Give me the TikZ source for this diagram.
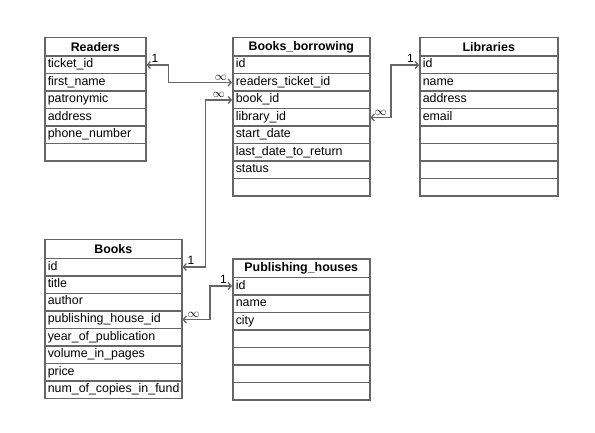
\documentclass[tikz,border=0pt]{standalone}
\usepackage{fontspec}
\setmainfont{Liberation Sans}
\usepackage{tikz}
\usetikzlibrary{arrows.meta, positioning}

\begin{document}
\begin{tikzpicture}[x=1pt, y=-1pt,
    line/.style={draw=black!60, line width=1.5pt},
    head/.style={line, anchor=north west, minimum width=#1, minimum height=18.5pt, inner sep=0pt, font=\fontsize{12.4}{14}\selectfont\bfseries},
    cell/.style={line, anchor=north west, text width=#1, minimum height=17.5pt, inner xsep=3pt, inner ysep=0pt, align=left, text height=9pt, text depth=3pt, font=\fontsize{12.4}{14}\selectfont},
    link/.style={line, line width=1.3pt, {Straight Barb[length=3pt,width=7pt]}-{Straight Barb[length=3pt,width=7pt]}},
    card/.style={inner sep=1.5pt, font=\fontsize{12}{14}\selectfont}]
    \useasboundingbox (0,0) rectangle (595,433);

    \node[head=101pt] (rd) at (44,37) {Readers};
    \foreach \i/\t in {1/ticket\_id, 2/first\_name, 3/patronymic, 4/address, 5/phone\_number, 6/} {
      \node[cell=95pt] (rd\i) at (44,{55.5+17.5*(\i-1)}) {\t};
    }

    \node[head=137pt] (bb) at (232,37) {Books\_borrowing};
    \foreach \i/\t in {1/id, 2/readers\_ticket\_id, 3/book\_id, 4/library\_id, 5/start\_date, 6/last\_date\_to\_return, 7/status, 8/} {
      \node[cell=131pt] (bb\i) at (232,{55.5+17.5*(\i-1)}) {\t};
    }

    \node[head=138pt] (lb) at (419,37) {Libraries};
    \foreach \i/\t in {1/id, 2/name, 3/address, 4/email, 5/, 6/, 7/, 8/} {
      \node[cell=132pt] (lb\i) at (419,{55.5+17.5*(\i-1)}) {\t};
    }

    \node[head=137pt] (bk) at (44,239) {Books};
    \foreach \i/\t in {1/id, 2/title, 3/author, 4/publishing\_house\_id, 5/year\_of\_publication, 6/volume\_in\_pages, 7/price, 8/num\_of\_copies\_in\_fund} {
      \node[cell=131pt] (bk\i) at (44,{257.5+17.5*(\i-1)}) {\t};
    }

    \node[head=137pt] (ph) at (232,258) {Publishing\_houses};
    \foreach \i/\t in {1/id, 2/name, 3/city, 4/, 5/, 6/, 7/} {
      \node[cell=131pt] (ph\i) at (232,{276.5+17.5*(\i-1)}) {\t};
    }

    \draw[link] (rd1.east) node[card, above right, xshift=3pt] {1} -- ++(22,0) |- (bb2.west) node[card, above left, xshift=-3pt] {$\infty$};
    \draw[link] (bk1.east) node[card, above right, xshift=3pt] {1} -- ++(23,0) |- (bb3.west) node[card, above left, xshift=-5pt] {$\infty$};
    \draw[link] (lb1.west) node[card, above left, xshift=-3pt] {1} -- ++(-28,0) |- (bb4.east) node[card, above right, xshift=2pt] {$\infty$};
    \draw[link] (ph1.west) node[card, above left, xshift=-3pt] {1} -- ++(-22,0) |- (bk4.east) node[card, above right, xshift=3pt] {$\infty$};
\end{tikzpicture}
\end{document}
